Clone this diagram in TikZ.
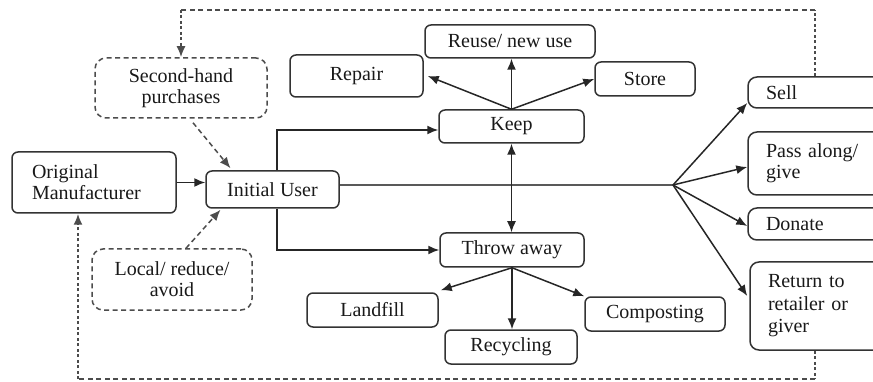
\documentclass[tikz,border=0pt]{standalone}
\usepackage{fontspec}
\setmainfont{Liberation Serif}
\newfontfamily\tnrfont{Liberation Serif}
\usetikzlibrary{arrows.meta,positioning}
\begin{document}
\begin{tikzpicture}[x=1pt,y=-1pt,
  every node/.style={font=\tnrfont\fontsize{20}{21}\selectfont, text=black!90},
  box/.style={draw=black!80, line width=1.5pt, rounded corners=6pt, inner sep=0pt, align=center},
  dbox/.style={draw=black!70, line width=1.5pt, rounded corners=11pt, inner sep=0pt, align=center, dash pattern=on 5pt off 3.5pt},
  rbox/.style={draw=black!80, line width=1.5pt, rounded corners=9pt, inner xsep=18pt, inner ysep=0pt, align=left, text width=100pt},
  arr/.style={line width=1.5pt, draw=black!85, -{Latex[length=11pt,width=9pt]}},
  darr/.style={line width=1.5pt, draw=black!70, dash pattern=on 5pt off 3.5pt, -{Latex[length=11pt,width=9pt]}},
  vdarr/.style={line width=1.8pt, draw=black!70, dash pattern=on 3pt off 2.5pt, -{Latex[length=11pt,width=9pt]}},
  hdash/.style={line width=1.5pt, draw=black!70, dash pattern=on 5pt off 3.5pt},
  vdash/.style={line width=1.8pt, draw=black!70, dash pattern=on 3pt off 2.5pt}
]
\useasboundingbox (0,0) rectangle (873,382);
\clip (0,0) rectangle (873,382);
% nodes
\node[box, minimum width=164pt, minimum height=61pt, align=left, text width=124pt] (manu) at (94,182.5) {Original\\Manufacturer};
\node[box, minimum width=133pt, minimum height=37pt] (iu) at (272.5,189.5) {Initial User};
\node[dbox, minimum width=172pt, minimum height=60pt] (sh) at (181,88) {Second-hand\\purchases};
\node[dbox, minimum width=160pt, minimum height=61pt] (lr) at (172,279.5) {Local/ reduce/\\avoid};
\node[box, minimum width=133pt, minimum height=42pt] (repair) at (356.5,76) {Repair};
\node[box, minimum width=170pt, minimum height=33pt] (reuse) at (510,41.5) {Reuse/ new use};
\node[box, minimum width=100pt, minimum height=34pt] (store) at (645,79) {Store};
\node[box, minimum width=145pt, minimum height=33pt] (keep) at (511.5,126.5) {Keep};
\node[box, minimum width=144pt, minimum height=34pt] (throw) at (512,250) {Throw away};
\node[box, minimum width=131pt, minimum height=34pt] (landfill) at (372.5,310) {Landfill};
\node[box, minimum width=132pt, minimum height=34pt] (recyc) at (511,347) {Recycling};
\node[box, minimum width=140pt, minimum height=34pt] (compost) at (655,314) {Composting};
\node[rbox, minimum height=31pt] (sell) at (816,92.5) {Sell};
\node[rbox, minimum height=63pt] (pass) at (816,163.5) {Pass along/\\give};
\node[rbox, minimum height=32pt] (donate) at (816,224) {Donate};
\node[rbox, minimum height=88pt, font=\tnrfont\fontsize{20}{22.5}\selectfont] (ret) at (818,306) {Return to\\retailer or\\giver};
% coordinates
\coordinate (J) at (673,185);
\coordinate (topy) at (0,10);
\coordinate (boty) at (0,379);
\coordinate (mb) at ([xshift=-16pt]manu.south);
% connectors
\draw[arr] (manu.east) -- (manu.east -| iu.west);
\draw[darr] ([xshift=12pt,yshift=-4pt]sh.south) -- ([xshift=-42pt,yshift=2pt]iu.north);
\draw[darr] ([xshift=14pt]lr.north) -- ([xshift=-52pt,yshift=-1pt]iu.south);
\draw[arr] ([xshift=4.5pt]iu.north) |- ([yshift=-3.5pt]keep.west);
\draw[arr] ([xshift=4.5pt]iu.south) |- (throw.west);
\draw[line width=2.2pt, draw=black!65] ([yshift=4.5pt]iu.east) -- (J);
\draw[arr] (J) -- ([yshift=-10.5pt]sell.west);
\draw[arr] (J) -- ([yshift=-3.5pt]pass.west);
\draw[arr] (J) -- ([yshift=-2pt]donate.west);
\draw[arr] (J) -- ([xshift=-2pt,yshift=10pt]ret.west);
\draw[line width=1.5pt, draw=black!85, {Latex[length=11pt,width=9pt]}-{Latex[length=11pt,width=9pt]}] (keep.south) -- (keep.south |- throw.north);
\draw[arr] (keep.north) -- ([xshift=4pt]repair.east);
\draw[arr] (keep.north) -- (keep.north |- reuse.south);
\draw[arr] (keep.north) -- (store.west);
\draw[arr] (throw.south) -- ([xshift=2pt,yshift=2pt]landfill.north east);
\draw[arr] (throw.south) -- (throw.south |- recyc.north);
\draw[arr] (throw.south) -- (compost.north west);
% dashed feedback loops
\draw[vdash] ([xshift=-1pt]sell.north) -- ([xshift=-1pt]sell.north |- topy);
\draw[hdash] ([xshift=-1pt]sell.north |- topy) -- (topy -| sh.north);
\draw[vdarr] (topy -| sh.north) -- (sh.north);
\draw[vdash] ([xshift=-3pt]ret.south) -- ([xshift=-3pt]ret.south |- boty);
\draw[hdash] ([xshift=-3pt]ret.south |- boty) -- (boty -| mb);
\draw[vdarr] (boty -| mb) -- (mb);
\end{tikzpicture}
\end{document}
